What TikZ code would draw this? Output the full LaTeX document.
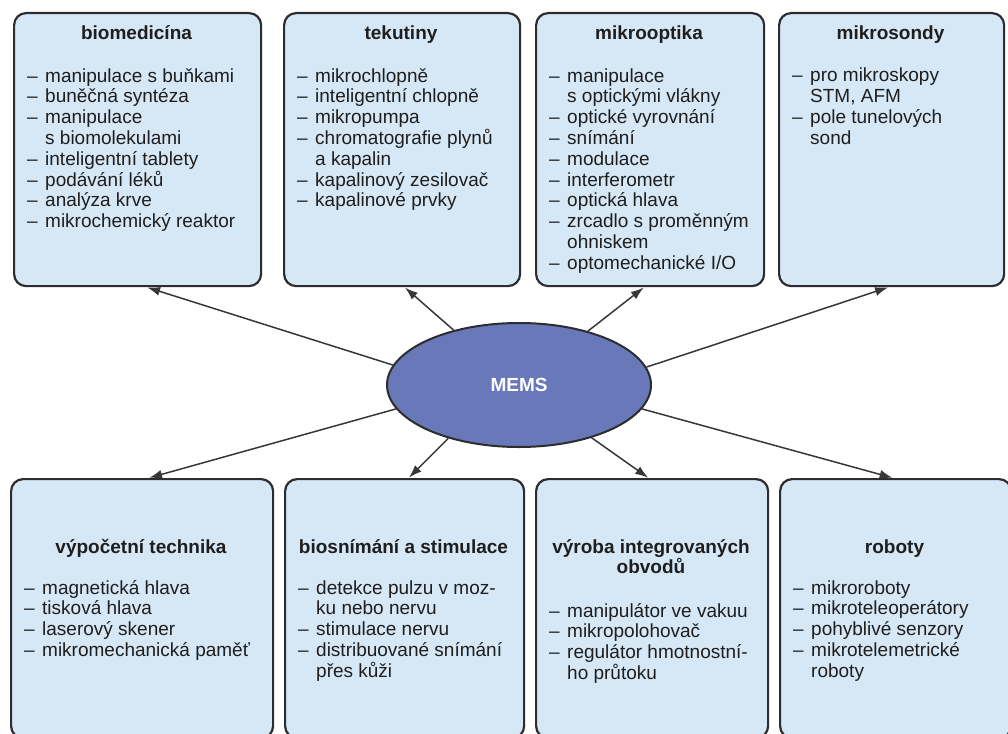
\documentclass[tikz,border=0pt]{standalone}
\usepackage{fontspec}
\setmainfont{Liberation Sans}
\usetikzlibrary{arrows.meta,shapes.geometric}
\definecolor{boxfill}{RGB}{214,232,246}
\definecolor{boxline}{RGB}{45,45,48}
\definecolor{memsfill}{RGB}{104,120,185}
\definecolor{txt}{RGB}{30,30,30}
\definecolor{arrowc}{RGB}{55,55,58}
\newcommand{\li}[1]{\makebox[18pt][l]{–}#1}
\newcommand{\lc}[1]{\hspace*{18pt}#1}
\begin{document}
\begin{tikzpicture}[x=1pt,y=-1pt,
  box/.style={draw=boxline, fill=boxfill, line width=2.2pt, rounded corners=12pt, anchor=north west, inner sep=0pt},
  ttl/.style={font=\fontsize{19}{20.5}\selectfont\bfseries, text=txt, anchor=base, align=center, inner sep=0pt},
  lst/.style={font=\fontsize{19}{20.8}\selectfont, text=txt, anchor=base west, align=left, inner sep=0pt},
  arr/.style={draw=arrowc, line width=1.5pt, -{Latex[length=13pt,width=9pt]}, shorten >=0.5pt}
]
\useasboundingbox (0,0) rectangle (1008,733);
% top boxes
\node[box, minimum width=247pt, minimum height=273pt] (b1) at (13,12) {};
\node[box, minimum width=236pt, minimum height=273pt] (b2) at (283,12) {};
\node[box, minimum width=228pt, minimum height=273pt] (b3) at (535,12) {};
\node[box, minimum width=225pt, minimum height=273pt] (b4) at (778,12) {};
% bottom boxes
\node[box, minimum width=262pt, minimum height=259pt] (u1) at (10,478) {};
\node[box, minimum width=239pt, minimum height=259pt] (u2) at (284,478) {};
\node[box, minimum width=232pt, minimum height=259pt] (u3) at (535,478) {};
\node[box, minimum width=231pt, minimum height=259pt] (u4) at (779,478) {};

% top texts (list nodes are anchored at the baseline of their last line)
\node[ttl] (t1) at (136.5,40) {biomedicína};
\node[lst] (l1) at (27,227.6) {\li{manipulace s buňkami}\\\li{buněčná syntéza}\\\li{manipulace}\\\lc{s biomolekulami}\\\li{inteligentní tablety}\\\li{podávání léků}\\\li{analýza krve}\\\li{mikrochemický reaktor}};
\node[ttl] (t2) at (401,40) {tekutiny};
\node[lst] (l2) at (297,206.8) {\li{mikrochlopně}\\\li{inteligentní chlopně}\\\li{mikropumpa}\\\li{chromatografie plynů}\\\lc{a kapalin}\\\li{kapalinový zesilovač}\\\li{kapalinové prvky}};
\node[ttl] (t3) at (649,40) {mikrooptika};
\node[lst] (l3) at (549,269.2) {\li{manipulace}\\\lc{s optickými vlákny}\\\li{optické vyrovnání}\\\li{snímání}\\\li{modulace}\\\li{interferometr}\\\li{optická hlava}\\\li{zrcadlo s proměnným}\\\lc{ohniskem}\\\li{optomechanické I/O}};
\node[ttl] (t4) at (890.5,40) {mikrosondy};
\node[lst] (l4) at (792,144.4) {\li{pro mikroskopy}\\\lc{STM, AFM}\\\li{pole tunelových}\\\lc{sond}};

% bottom texts
\node[ttl] (s1) at (141,553) {výpočetní technika};
\node[lst] (m1) at (24,656.4) {\li{magnetická hlava}\\\li{tisková hlava}\\\li{laserový skener}\\\li{mikromechanická paměť}};
\node[ttl] (s2) at (403.5,553) {biosnímání a stimulace};
\node[lst] (m2) at (298,677.2) {\li{detekce pulzu v moz-}\\\lc{ku nebo nervu}\\\li{stimulace nervu}\\\li{distribuované snímání}\\\lc{přes kůži}};
\node[ttl] (s3) at (651,573.5) {výroba integrovaných\\obvodů};
\node[lst] (m3) at (549,679.4) {\li{manipulátor ve vakuu}\\\li{mikropolohovač}\\\li{regulátor hmotnostní-}\\\lc{ho průtoku}};
\node[ttl] (s4) at (894.5,553) {roboty};
\node[lst] (m4) at (793,677.2) {\li{mikroroboty}\\\li{mikroteleoperátory}\\\li{pohyblivé senzory}\\\li{mikrotelemetrické}\\\lc{roboty}};

% center
\node[ellipse, draw=boxline, fill=memsfill, line width=2pt, minimum width=264pt, minimum height=124pt, inner sep=0pt, text=white, font=\fontsize{19}{22}\selectfont\bfseries] (mems) at (519,385) {MEMS};

% arrows
\draw[arr] (mems.171) -- ([xshift=9pt]b1.south);
\draw[arr] (mems.140) -- ([xshift=2.5pt]b2.south);
\draw[arr] (mems.38.6) -- ([xshift=-6pt]b3.south);
\draw[arr] (mems.8.5) -- ([xshift=-3pt]b4.south);
\draw[arr] (mems.191) -- ([xshift=6.5pt]u1.north);
\draw[arr] (mems.217) -- ([xshift=4pt]u2.north);
\draw[arr] (mems.324) -- ([xshift=-3.5pt]u3.north);
\draw[arr] (mems.349) -- ([xshift=-2.5pt]u4.north);
\end{tikzpicture}
\end{document}
